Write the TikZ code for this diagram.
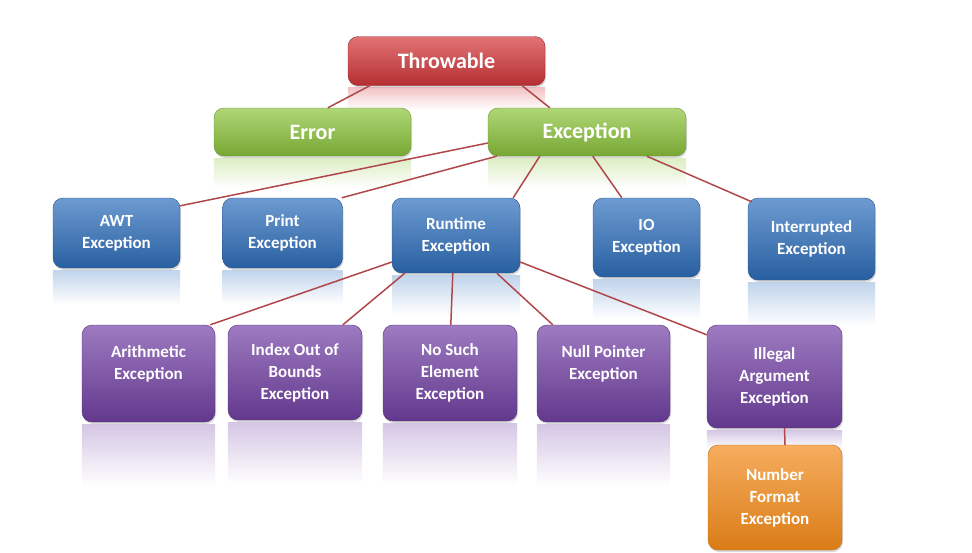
\documentclass[tikz,border=0pt]{standalone}
\usepackage{fontspec}
\setmainfont{Carlito}
\usetikzlibrary{positioning, calc, shadows, backgrounds}

\definecolor{thrRed}{HTML}{D5373A}
\definecolor{excGreen}{HTML}{8DC53C}
\definecolor{excBlue}{HTML}{2F70BD}
\definecolor{excPurple}{HTML}{7442A6}
\definecolor{excOrange}{HTML}{F28A1A}
\definecolor{wireRed}{HTML}{B0474A}

\tikzset{
  box/.style = {rounded corners=10pt, inner sep=0pt, align=center, text=white,
    font=\bfseries\fontsize{17}{22}\selectfont,
    drop shadow={opacity=0.3, shadow xshift=1pt, shadow yshift=-2pt}},
  bigbox/.style = {box, font=\bfseries\fontsize{22}{26}\selectfont},
  redbox/.style = {bigbox, top color=thrRed!70!white, bottom color=thrRed!85!black, draw=thrRed!70!black},
  greenbox/.style = {bigbox, top color=excGreen!70!white, bottom color=excGreen!85!black, draw=excGreen!75!black},
  bluebox/.style = {box, top color=excBlue!70!white, bottom color=excBlue!85!black, draw=excBlue!75!black},
  purplebox/.style = {box, top color=excPurple!70!white, bottom color=excPurple!85!black, draw=excPurple!75!black},
  orangebox/.style = {box, top color=excOrange!70!white, bottom color=excOrange!90!black, draw=excOrange!80!black},
  wire/.style = {draw=wireRed, line width=1.5pt}
}

\begin{document}
\begin{tikzpicture}[x=1pt, y=-1pt]
\useasboundingbox (0,0) rectangle (972,552);

% top of the tree
\node[redbox, minimum width=197, minimum height=49] (thr) at (446.5,61) {Throwable};
\node[greenbox, minimum width=197, minimum height=48] (err) at (312.5,132) {Error};
\node[greenbox, minimum width=198, minimum height=48] (exc) at (587,132) {Exception};

% checked exceptions
\node[bluebox, minimum width=127, minimum height=70] (awt) at (116.5,233) {AWT\\Exception};
\node[bluebox, minimum width=120, minimum height=70] (prt) at (282.5,233) {Print\\Exception};
\node[bluebox, minimum width=128, minimum height=75] (rte) at (456,235.5) {Runtime\\Exception};
\node[bluebox, minimum width=107, minimum height=79] (ioe) at (646.5,237.5) {IO\\Exception};
\node[bluebox, minimum width=127, minimum height=82] (int) at (811.5,239) {Interrupted\\Exception};

% runtime exceptions
\node[purplebox, minimum width=133, minimum height=97] (ari) at (148.5,373.5) {Arithmetic\\Exception\\\mbox{}};
\node[purplebox, minimum width=134, minimum height=95] (idx) at (295,372.5) {Index Out of\\Bounds\\Exception};
\node[purplebox, minimum width=134, minimum height=96] (nse) at (450,373) {No Such\\Element\\Exception};
\node[purplebox, minimum width=133, minimum height=97] (npe) at (603.5,373.5) {Null Pointer\\Exception\\\mbox{}};
\node[purplebox, minimum width=135, minimum height=103] (iae) at (774.5,376.5) {Illegal\\Argument\\Exception};
\node[orangebox, minimum width=134, minimum height=105] (nfe) at (775,497.5) {Number\\Format\\Exception};

% reflections
\begin{scope}[on background layer]
\foreach \n/\c/\d in {thr/thrRed/22, err/excGreen/30, exc/excGreen/30,
    awt/excBlue/34, prt/excBlue/34, rte/excBlue/40, ioe/excBlue/40, int/excBlue/44,
    ari/excPurple/62, idx/excPurple/62, nse/excPurple/62, npe/excPurple/62, iae/excPurple/18}
  \shade[top color=\c!30, bottom color=white] ([yshift=-2]\n.south west) rectangle ([yshift=-2-\d]\n.south east);
\end{scope}

% draw wires
\draw[wire] ([xshift=22]thr.south west) -- ([xshift=114]err.north west);
\draw[wire] ([xshift=-23]thr.south east) -- ([xshift=62]exc.north west);
\draw[wire] ([yshift=-11]exc.west) -- ([yshift=-8]awt.north east);
\draw[wire] ([xshift=9]exc.south west) -- ([xshift=-1]prt.north east);
\draw[wire] ([xshift=52]exc.south west) -- ([xshift=-7]rte.north east);
\draw[wire] ([xshift=105]exc.south west) -- ([xshift=29]ioe.north west);
\draw[wire] ([xshift=159]exc.south west) -- ([xshift=4,yshift=-4]int.north west);
\draw[wire] ([yshift=-26.5]rte.west) -- ([xshift=-5]ari.north east);
\draw[wire] ([xshift=13]rte.south west) -- ([xshift=115]idx.north west);
\draw[wire] ([xshift=61]rte.south west) -- ([xshift=68]nse.north west);
\draw[wire] ([xshift=105]rte.south west) -- ([xshift=16]npe.north west);
\draw[wire] ([yshift=-26.5]rte.east) -- ([yshift=-10]iae.north west);
\draw[wire] ([xshift=10]iae.south) -- ([xshift=10]nfe.north);
\end{tikzpicture}
\end{document}
